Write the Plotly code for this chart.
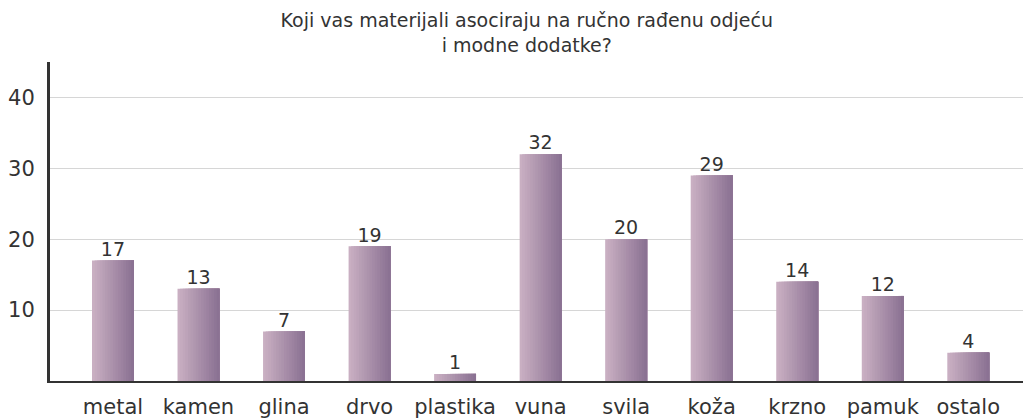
import plotly.graph_objects as go

categories = ["metal", "kamen", "glina", "drvo", "plastika", "vuna",
              "svila", "koža", "krzno", "pamuk", "ostalo"]
values = [17, 13, 7, 19, 1, 32, 20, 29, 14, 12, 4]
y_ticks = [10, 20, 30, 40]

title = "Koji vas materijali asociraju na ručno rađenu odjeću<br>i modne dodatke?"
font_family = "DejaVu Sans"

# bars get a left-to-right gradient, built from overlaid slices
left_rgb = (201, 175, 194)
right_rgb = (139, 114, 147)
n_slices = 16
bar_width = 0.49

fig = go.Figure()
for i in range(n_slices):
    t = i / (n_slices - 1)
    rgb = tuple(round(a + (b - a) * t) for a, b in zip(left_rgb, right_rgb))
    step = bar_width / n_slices
    fig.add_trace(go.Bar(
        x=categories, y=values,
        width=bar_width - i * step, offset=-bar_width / 2 + i * step,
        marker=dict(color="rgb(%d,%d,%d)" % rgb, line=dict(width=0)),
        hoverinfo="skip", showlegend=False,
    ))

fig.add_trace(go.Scatter(
    x=categories, y=values, mode="text",
    text=[str(v) for v in values], textposition="top center",
    textfont=dict(size=19, color="#333333", family=font_family),
    hovertemplate="%{x}: %{y}<extra></extra>", showlegend=False,
))

fig.update_layout(
    width=1023, height=418,
    barmode="overlay",
    margin=dict(l=50, r=0, t=62, b=37),
    paper_bgcolor="white", plot_bgcolor="white",
    font=dict(family=font_family, color="#333333"),
    title=dict(text=title, x=0.49, xref="paper", xanchor="center",
               y=0.935, yanchor="top",
               font=dict(size=19, color="#333333", family=font_family)),
)
fig.update_xaxes(
    range=[-0.736, 10.64],
    showline=True, linecolor="#333333", linewidth=2,
    showgrid=False, ticks="", ticklabelstandoff=6,
    tickfont=dict(size=21, color="#333333"),
)
fig.update_yaxes(
    range=[0, 45], tickvals=y_ticks,
    showline=True, linecolor="#333333", linewidth=3,
    showgrid=True, gridcolor="#d6d6d6", gridwidth=1,
    zeroline=False, ticks="", ticklabelstandoff=8,
    tickfont=dict(size=21, color="#333333"),
)

fig.write_html("out.html", config={"displayModeBar": False},
               post_script="document.body.style.margin='0';")
